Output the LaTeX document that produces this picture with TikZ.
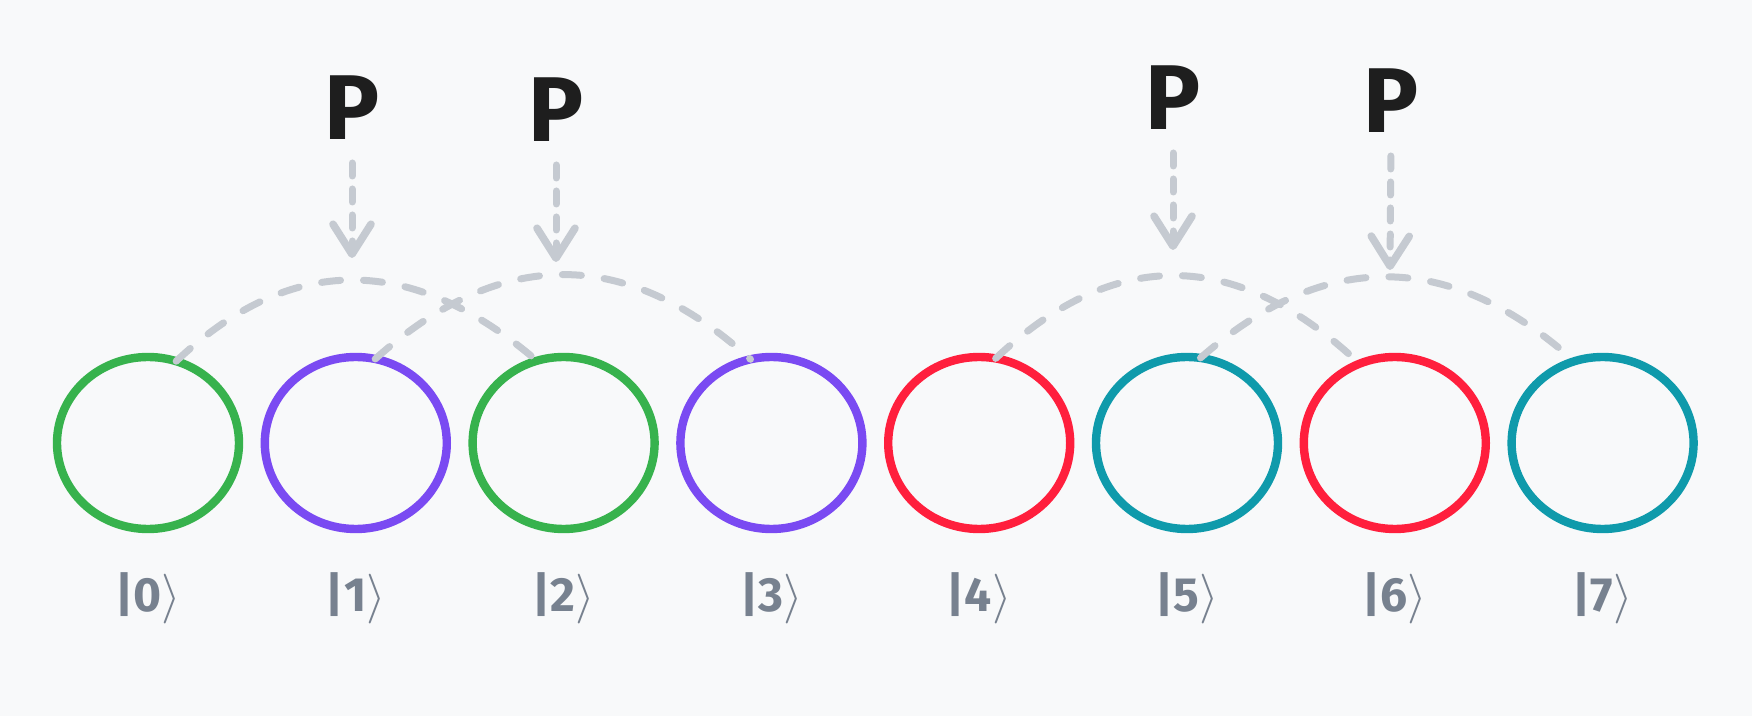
\documentclass[tikz,border=0pt]{standalone}
\usepackage{fontspec}
\setsansfont{Fira Sans}
\usetikzlibrary{shapes.geometric,arrows.meta,calc}

\definecolor{bgcol}{HTML}{F8F9FA}
\definecolor{qgreen}{HTML}{37B24D}
\definecolor{qviolet}{HTML}{7A4AF2}
\definecolor{qred}{HTML}{FF1F3D}
\definecolor{qteal}{HTML}{0F9AAB}
\definecolor{dashgray}{HTML}{C5CAD1}
\definecolor{labelgray}{HTML}{77818F}
\definecolor{ink}{HTML}{1E1E1E}

\tikzset{
  qstate/.style={ellipse, draw=#1, line width=4.2pt, minimum width=91pt,
    minimum height=86pt, inner sep=0pt, outer sep=0pt},
  ketlabel/.style={text=labelgray, font=\sffamily\fontsize{24}{28}\selectfont},
  opname/.style={text=ink, font=\sffamily\bfseries\fontsize{46}{50}\selectfont,
    anchor=south, inner sep=0pt},
  pairarc/.style={draw=dashgray, line width=3.5pt, line cap=round,
    dash pattern=on 9.5pt off 11.5pt},
  pointer/.style={draw=dashgray, line width=3.5pt, line cap=round,
    dash pattern=on 6.5pt off 6.5pt, shorten <=11.5pt,
    -{Straight Barb[length=15pt,width=19pt,line width=3.8pt,line cap=round,line join=round]}},
}

\begin{document}
\begin{tikzpicture}[x=0.5pt,y=-0.5pt]
  % canvas
  \fill[bgcol] (0,0) rectangle (1752,716);
  \useasboundingbox (0,0) rectangle (1752,716);

  % basis states
  \foreach \i/\c in {0/qgreen,1/qviolet,2/qgreen,3/qviolet,4/qred,5/qteal,6/qred,7/qteal}{
    \node[qstate=\c] (c\i) at ({148+207.8*\i},443) {};
    \node[ketlabel] (k\i) at ({148+207.8*\i},598) {\textbf{|\i}$\rangle$};
  }

  % operator labels
  \node[opname] (p1) at (352,140) {P};
  \node[opname] (p2) at (556,142) {P};
  \node[opname] (p3) at (1173,130) {P};
  \node[opname] (p4) at (1391,133) {P};

  % control points of the pairing arcs
  \coordinate (q1) at (348,199);
  \coordinate (q2) at (564,190);
  \coordinate (q3) at (1175,190);
  \coordinate (q4) at (1387,194);

  % arrow tips just above each arc
  \coordinate (t1) at (352,258);
  \coordinate (t2) at (556,262);
  \coordinate (t3) at (1173,250);
  \coordinate (t4) at (1390,270);

  % pairing arcs (quadratic curves through the circle tops)
  \foreach \a/\sa/\b/\sb/\q in {c0/71/c2/108/q1, c1/77/c3/104/q2, c4/79/c6/114/q3, c5/81/c7/109/q4}{
    \draw[pairarc] (\a.\sa) .. controls ($(\a.\sa)!2/3!(\q)$) and ($(\b.\sb)!2/3!(\q)$) .. (\b.\sb);
  }

  % operator arrows
  \draw[pointer] (p1.south) -- (t1);
  \draw[pointer] (p2.south) -- (t2);
  \draw[pointer] (p3.south) -- (t3);
  \draw[pointer] (p4.south) -- (t4);
\end{tikzpicture}
\end{document}
